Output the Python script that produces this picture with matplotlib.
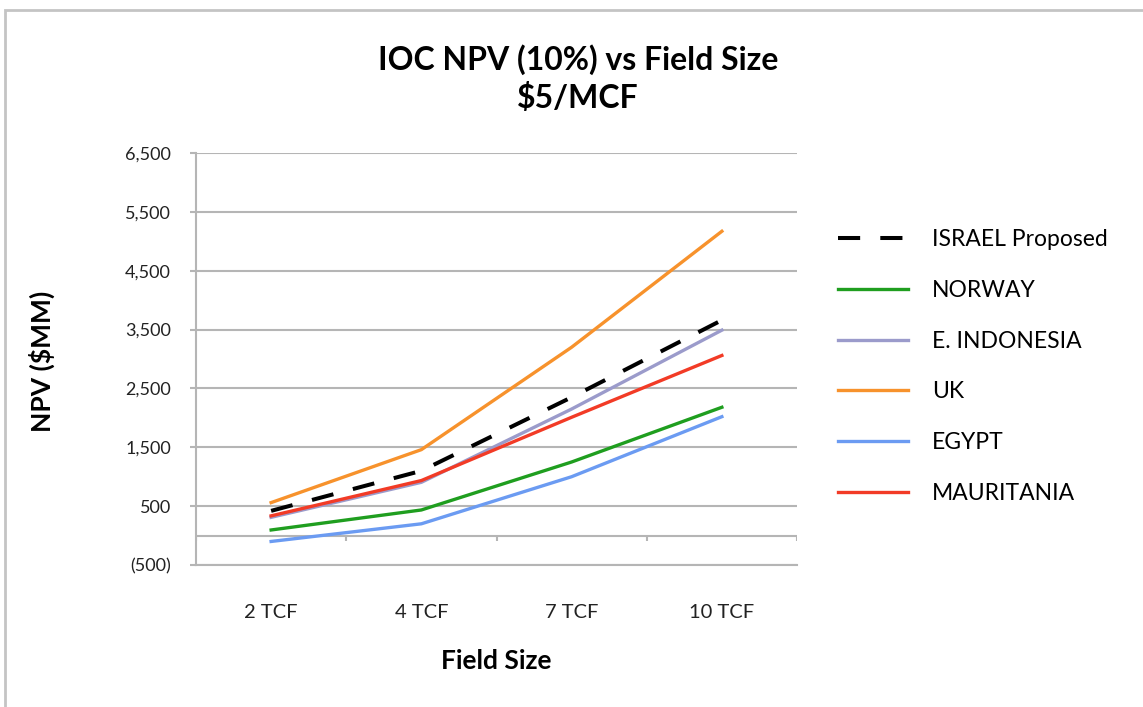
import matplotlib
matplotlib.use("Agg")
import matplotlib.pyplot as plt
from matplotlib.patches import Rectangle
from matplotlib.ticker import FuncFormatter

plt.rcParams['font.family'] = ['Lato', 'DejaVu Sans']

# data
field_sizes = ['2 TCF', '4 TCF', '7 TCF', '10 TCF']
israel = [420, 1100, 2350, 3660]
norway = [95, 435, 1250, 2180]
indonesia = [310, 905, 2150, 3490]
uk = [560, 1460, 3200, 5170]
egypt = [-100, 200, 1000, 2020]
mauritania = [335, 935, 2010, 3060]

series = [
    ('ISRAEL Proposed', israel, '#000000', (0, (5.5, 5))),
    ('NORWAY', norway, '#1f9e1f', '-'),
    ('E. INDONESIA', indonesia, '#9b9bcb', '-'),
    ('UK', uk, '#f7922c', '-'),
    ('EGYPT', egypt, '#6b9bf2', '-'),
    ('MAURITANIA', mauritania, '#f23b26', '-'),
]
yticks = [-500, 500, 1500, 2500, 3500, 4500, 5500, 6500]

fig = plt.figure(figsize=(11.43, 7.07), dpi=100)
ax = fig.add_axes([196/1143, 1-565/707, 601/1143, 412/707])

x = range(len(field_sizes))
for name, vals, col, ls in series:
    ax.plot(x, vals, color=col, lw=2.4 if ls == '-' else 2.9, linestyle=ls, label=name)

ax.set_xlim(-0.5, 3.5)
ax.set_ylim(-500, 6500)
ax.set_yticks(yticks)
ax.yaxis.set_major_formatter(FuncFormatter(
    lambda v, p: '({:,.0f})'.format(-v) if v < 0 else '{:,.0f}'.format(v)))
ax.grid(axis='y', color='#b5b5b5', lw=1.5)
ax.set_axisbelow(True)
ax.axhline(0, color='#b5b5b5', lw=1.5, zorder=0)
ax.vlines([-0.5, 0.5, 1.5, 2.5, 3.5], -90, 0, color='#b5b5b5', lw=1.5, zorder=0)

for s in ['top', 'right']:
    ax.spines[s].set_visible(False)
for s in ['left', 'bottom']:
    ax.spines[s].set_color('#b5b5b5')
    ax.spines[s].set_linewidth(1.5)

ax.set_xticks(list(x))
ax.set_xticklabels(field_sizes)
ax.tick_params(axis='x', length=0, pad=28, labelsize=14.5, labelcolor='#222222')
ax.tick_params(axis='y', length=4, width=1.5, color='#b5b5b5', pad=14,
               labelsize=13, labelcolor='#222222')

ax.set_xlabel('Field Size', fontsize=19, fontweight='bold', labelpad=20)
fig.text(42/1143, 1-361/707, 'NPV ($MM)', rotation=90, fontsize=19,
         fontweight='bold', ha='center', va='center')
fig.text(578/1143, 1-79/707, 'IOC NPV (10%) vs Field Size\n$5/MCF', fontsize=23,
         fontweight='bold', ha='center', va='center', linespacing=1.32)

ax.legend(loc='upper left', bbox_to_anchor=(838/1143, 1-229/707),
          bbox_transform=fig.transFigure, frameon=False, borderpad=0,
          borderaxespad=0, handlelength=3.05, handletextpad=1.05,
          labelspacing=1.3, fontsize=16.5)

fig.patches.append(Rectangle((5/1143, -0.1), 1.2, 1-10/707+0.1, transform=fig.transFigure,
                             fill=False, edgecolor='#c4c4c4', lw=2))

fig.savefig('out.png', dpi=100)
